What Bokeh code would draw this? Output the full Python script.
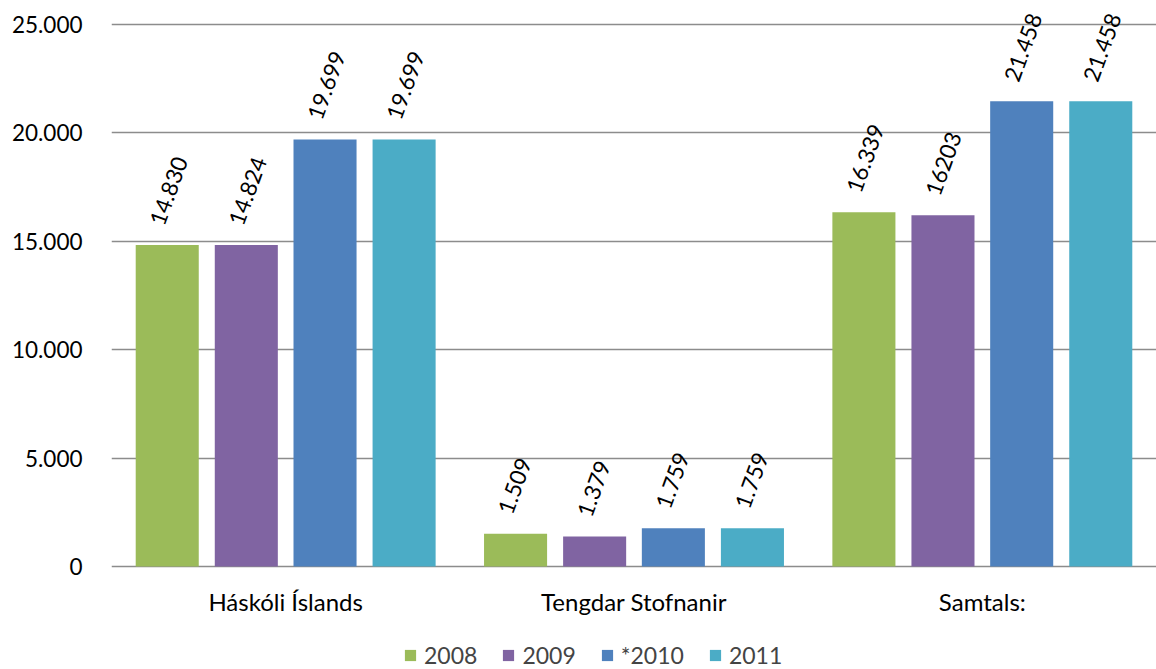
import math
from bokeh.plotting import figure
from bokeh.models import ColumnDataSource, FactorRange, Legend, LegendItem, FixedTicker, Range1d
from bokeh.transform import dodge
from bokeh.core.properties import value
from bokeh.embed import file_html
from bokeh.resources import INLINE

categories = ["Háskóli Íslands", "Tengdar Stofnanir", "Samtals:"]
series_names = ["2008", "2009", "*2010", "2011"]
v2008 = [14830, 1509, 16339]
v2009 = [14824, 1379, 16203]
v2010 = [19699, 1759, 21458]
v2011 = [19699, 1759, 21458]
l2008 = ["14.830", "1.509", "16.339"]
l2009 = ["14.824", "1.379", "16203"]
l2010 = ["19.699", "1.759", "21.458"]
l2011 = ["19.699", "1.759", "21.458"]
y_ticks = [0, 5000, 10000, 15000, 20000, 25000]
y_tick_labels = ["0", "5.000", "10.000", "15.000", "20.000", "25.000"]

colors = ["#9BBB59", "#8064A2", "#4F81BD", "#4BACC6"]
offsets = [-0.34, -0.113, 0.113, 0.34]
FONT = "Lato"

source = ColumnDataSource(dict(cat=categories,
                               v0=v2008, v1=v2009, v2=v2010, v3=v2011,
                               l0=l2008, l1=l2009, l2=l2010, l3=l2011))

# frame spans the full height: 25000 lands at y=24 px, 0 at y=566 px
PX = 25000 / 542.0
p = figure(x_range=FactorRange(*categories),
           y_range=Range1d(-103 * PX, 25000 + 24 * PX),
           width=1156, height=669, output_backend="svg", toolbar_location=None,
           min_border_left=111, min_border_right=0, min_border_top=0,
           min_border_bottom=0)
p.outline_line_color = None
p.background_fill_color = "white"

items = []
for i in range(4):
    r = p.vbar(x=dodge("cat", offsets[i], range=p.x_range), top="v%d" % i, width=0.181,
               source=source, fill_color=colors[i], line_color=None)
    p.text(x=dodge("cat", offsets[i], range=p.x_range), y="v%d" % i, text="l%d" % i,
           source=source, angle=math.radians(70), text_align="left",
           text_baseline="middle", x_offset=-11, y_offset=-21,
           text_font=value(FONT), text_font_size="22.5px", text_color="black")
    items.append(LegendItem(label=series_names[i], renderers=[r]))

# category labels under the zero line
p.text(x="cat", y=0, text="cat", source=source, text_align="center",
       text_baseline="middle", y_offset=35, text_font=value(FONT),
       text_font_size="24px", text_color="black")

p.xaxis.visible = False
p.yaxis.ticker = FixedTicker(ticks=y_ticks)
p.yaxis.major_label_overrides = {t: s for t, s in zip(y_ticks, y_tick_labels)}
p.yaxis.axis_line_color = None
p.yaxis.major_tick_line_color = None
p.yaxis.minor_tick_line_color = None
p.yaxis.major_label_standoff = 23
p.yaxis.major_label_text_font = FONT
p.yaxis.major_label_text_font_size = "22.5px"
p.yaxis.major_label_text_color = "black"

p.xgrid.grid_line_color = None
p.ygrid.grid_line_color = "#8c8c8c"
p.ygrid.grid_line_width = 1.5
p.ygrid.ticker = FixedTicker(ticks=y_ticks)

legend = Legend(items=items, orientation="horizontal", location=(292, 0),
                border_line_color=None, background_fill_alpha=0,
                padding=0, margin=0, spacing=24, label_standoff=7,
                glyph_width=14, glyph_height=14,
                label_text_font=FONT, label_text_font_size="23px")
p.add_layout(legend, "center")

open("out.html", "w").write(file_html(p, INLINE))
